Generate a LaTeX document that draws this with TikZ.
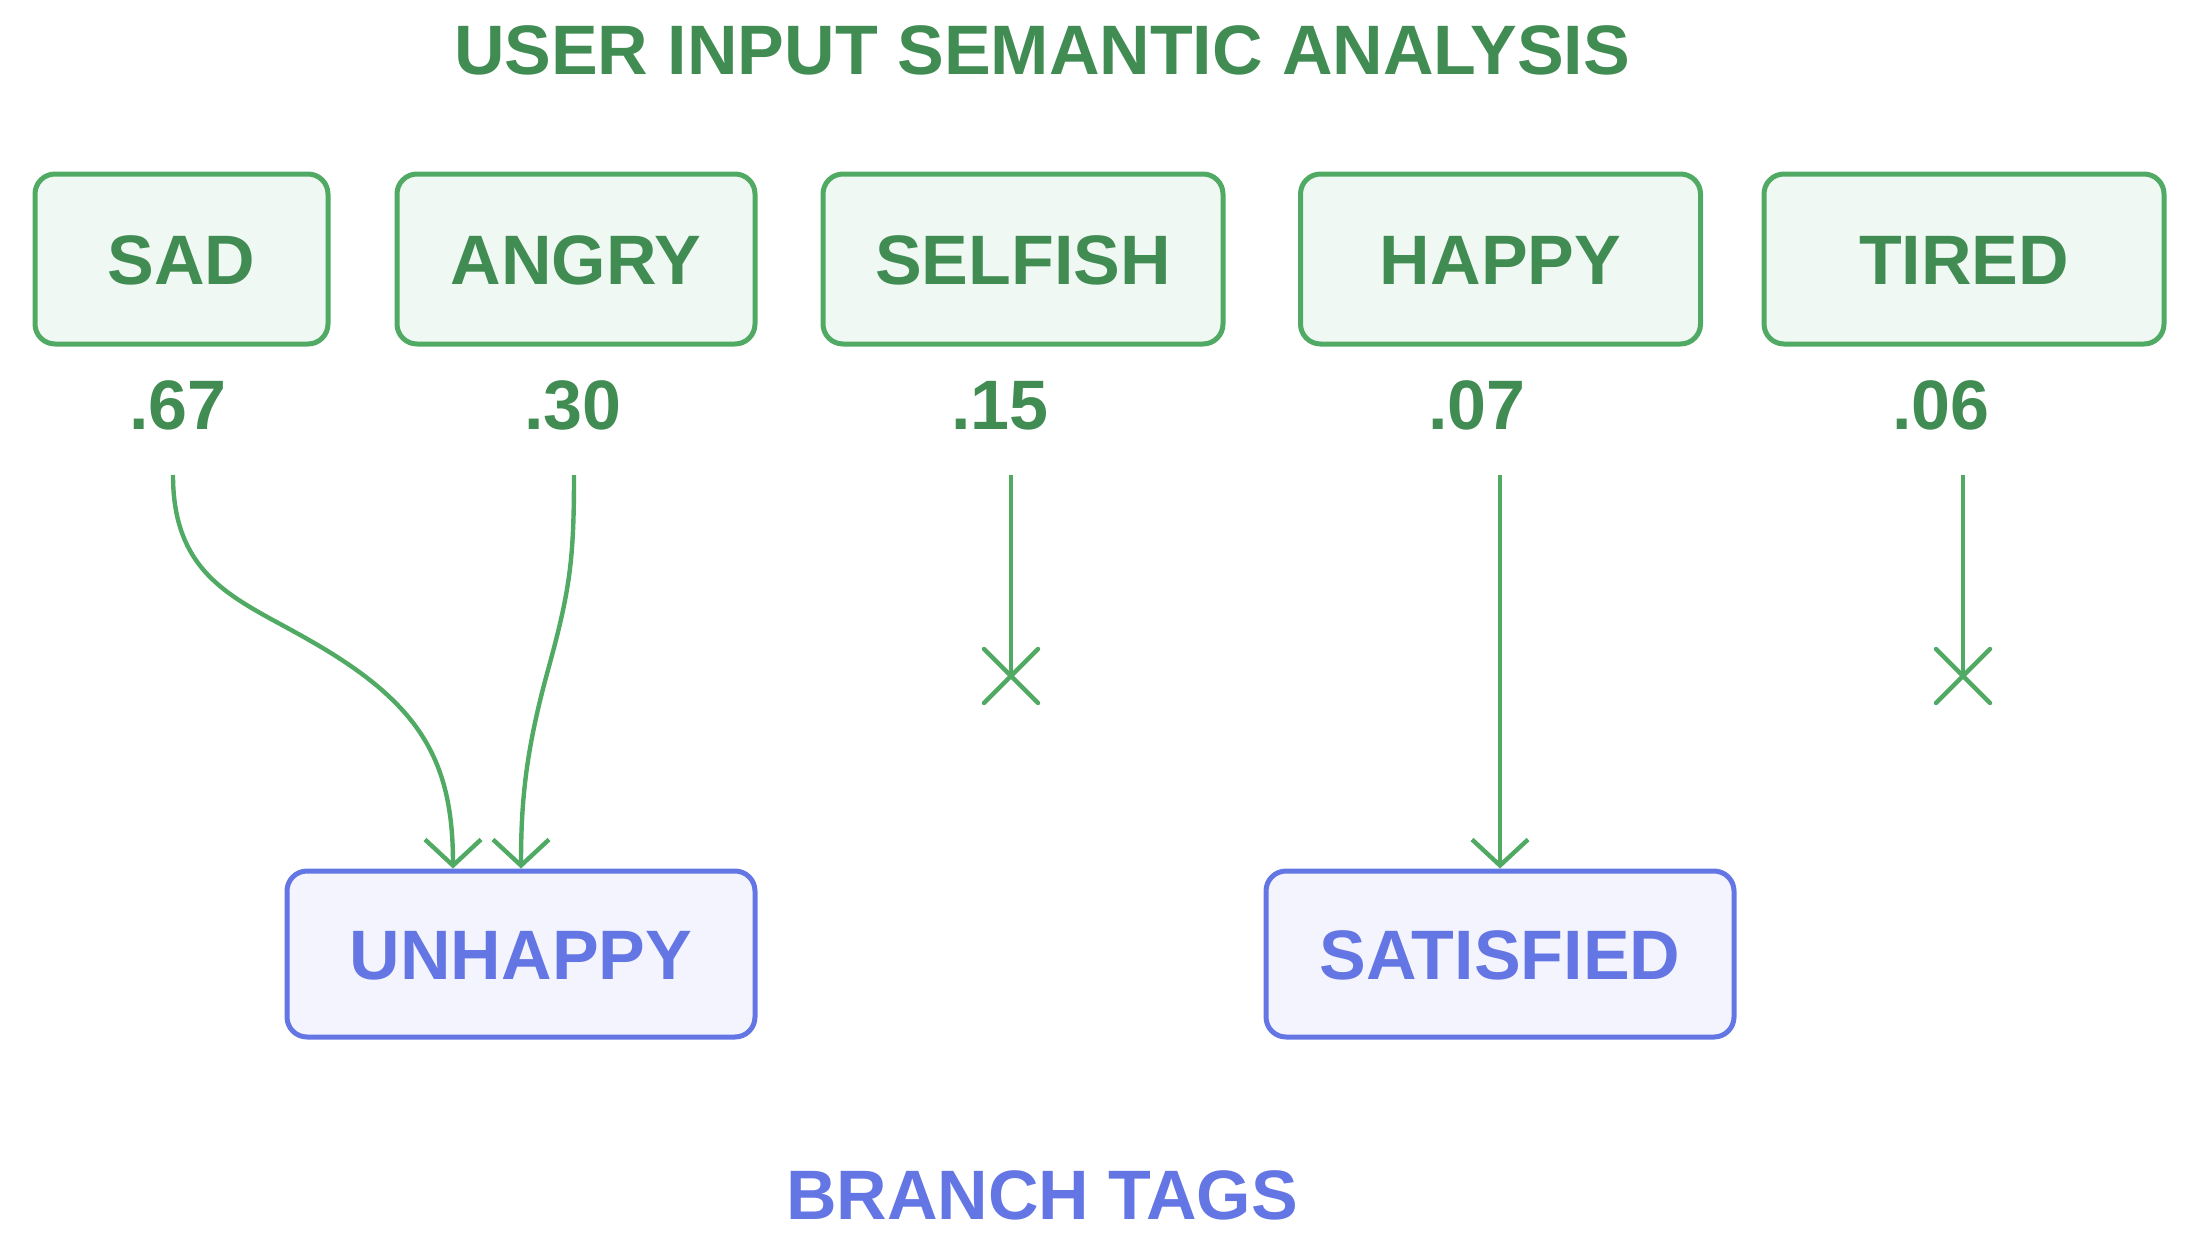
\documentclass[tikz,border=0pt]{standalone}
\usepackage{fontspec}
\setmainfont{Liberation Sans}
\usetikzlibrary{arrows.meta}
\definecolor{gline}{RGB}{80,170,100}
\definecolor{gtext}{RGB}{64,140,82}
\definecolor{gfill}{RGB}{239,248,242}
\definecolor{bline}{RGB}{100,118,228}
\definecolor{bfill}{RGB}{243,244,253}
\tikzset{
  lbl/.style={font=\fontsize{35}{40}\selectfont\bfseries, inner sep=0pt, text height=25pt, text depth=0pt},
  inbox/.style={lbl, draw=gline, fill=gfill, text=gtext, line width=2.5pt, rounded corners=10pt, minimum height=85pt},
  tagbox/.style={lbl, draw=bline, fill=bfill, text=bline, line width=2.5pt, rounded corners=10pt, minimum height=83pt, minimum width=234pt},
  score/.style={lbl, text=gtext},
  conn/.style={draw=gline, line width=2.2pt, -{Straight Barb[length=13pt,width=28pt,line width=2.2pt]}},
  stopline/.style={draw=gline, line width=2.2pt},
  crossmark/.style={draw=gline, line width=2.2pt, line cap=round},
}
\begin{document}
\begin{tikzpicture}[x=0.5pt,y=-0.5pt]
\useasboundingbox (0,0) rectangle (2202,1248);
\node[lbl, text=gtext] (title) at (1042,49) {USER INPUT SEMANTIC ANALYSIS};
\node[lbl, text=bline] (foot) at (1042,1194) {BRANCH TAGS};

\node[inbox, minimum width=146.5pt] (sad) at (181.5,259) {SAD};
\node[inbox, minimum width=179pt] (angry) at (576,259) {ANGRY};
\node[inbox, minimum width=200pt] (selfish) at (1023,259) {SELFISH};
\node[inbox, minimum width=200pt] (happy) at (1500.5,259) {HAPPY};
\node[inbox, minimum width=200pt] (tired) at (1964,259) {TIRED};

\node[score] (s1) at (178,404) {.67};
\node[score] (s2) at (573,404) {.30};
\node[score] (s3) at (1000,404) {.15};
\node[score] (s4) at (1477,404) {.07};
\node[score] (s5) at (1941,404) {.06};

\node[tagbox] (unhappy) at (521,954) {UNHAPPY};
\node[tagbox] (satisfied) at (1500,954) {SATISFIED};

\coordinate (a1) at (173,475);
\coordinate (a2) at (574,475);
\coordinate (a3) at (1011,475);
\coordinate (a4) at (1500,475);
\coordinate (a5) at (1963,475);
\coordinate (x3) at (1011,676);
\coordinate (x5) at (1963,676);

\draw[conn] (a1) .. controls (173,580) and (240,600) .. (309,640)
  .. controls (420,703) and (453,760) .. ([xshift=-34pt]unhappy.north);
\draw[conn] (a2) .. controls (574,560) and (570,590) .. (548,670)
  .. controls (526,750) and (521,800) .. (unhappy.north);
\draw[conn] (a4) -- (satisfied.north);
\draw[stopline] (a3) -- (x3);
\draw[crossmark] ([shift={(-13.5pt,-13.5pt)}]x3) -- ([shift={(13.5pt,13.5pt)}]x3)
  ([shift={(-13.5pt,13.5pt)}]x3) -- ([shift={(13.5pt,-13.5pt)}]x3);
\draw[stopline] (a5) -- (x5);
\draw[crossmark] ([shift={(-13.5pt,-13.5pt)}]x5) -- ([shift={(13.5pt,13.5pt)}]x5)
  ([shift={(-13.5pt,13.5pt)}]x5) -- ([shift={(13.5pt,-13.5pt)}]x5);
\end{tikzpicture}
\end{document}
